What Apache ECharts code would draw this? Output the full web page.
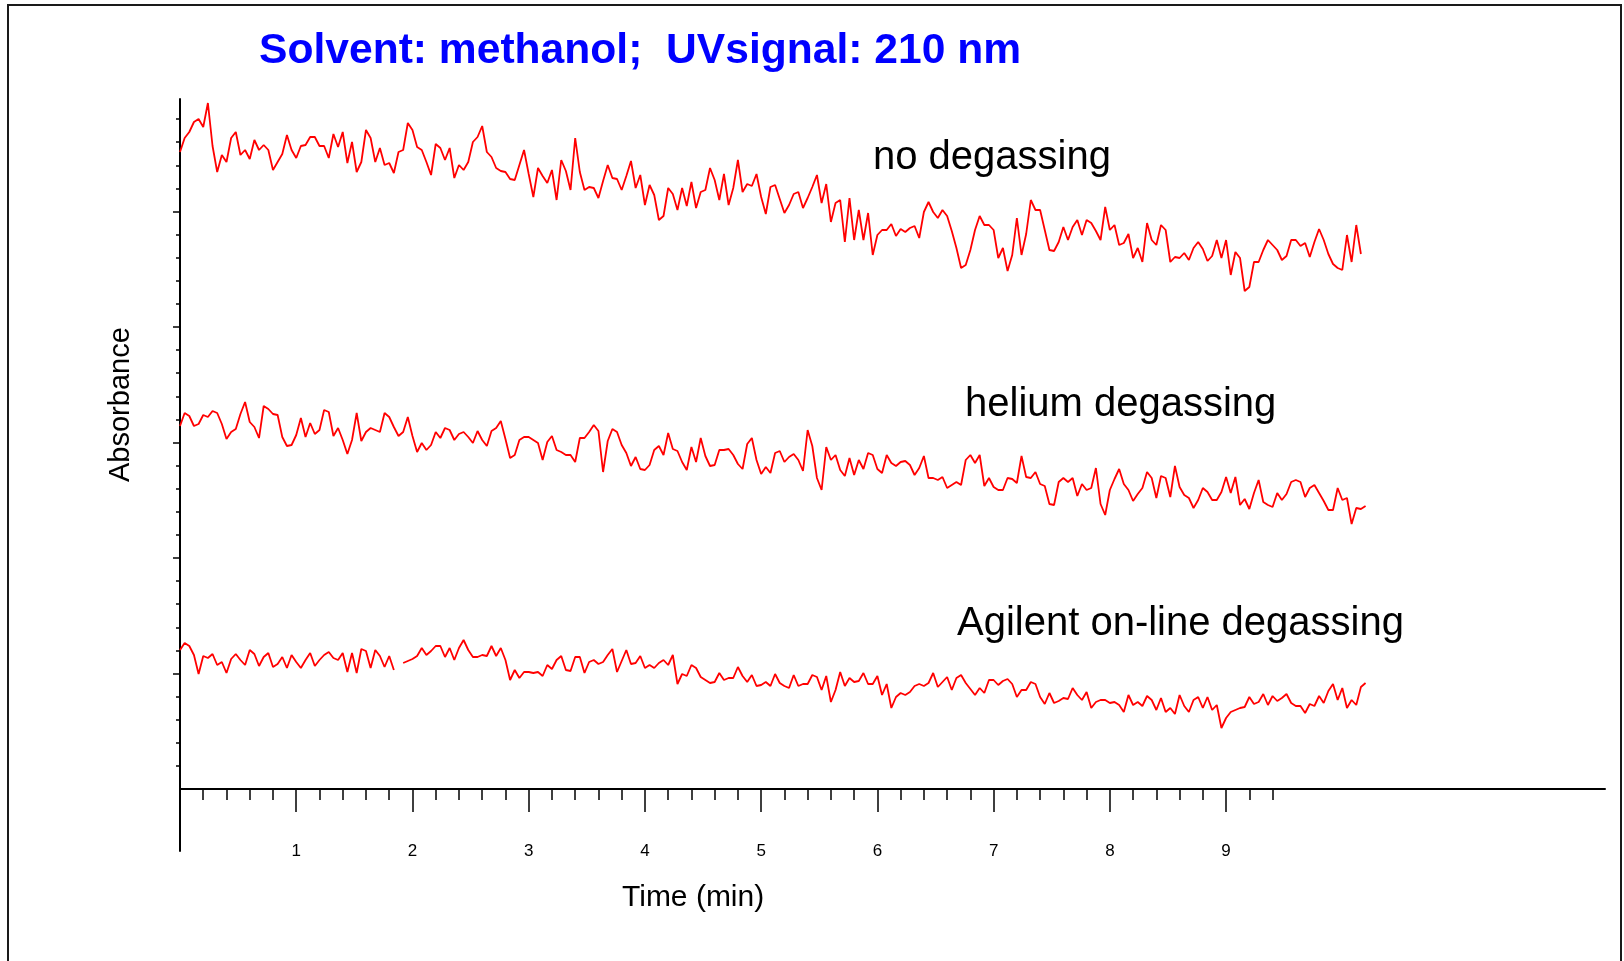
<!DOCTYPE html>
<html>
<head>
<meta charset="utf-8">
<title>Solvent: methanol; UVsignal: 210 nm</title>
<script src="https://cdn.jsdelivr.net/npm/echarts@6.0.0/dist/echarts.min.js"></script>
<style>
    html, body { margin: 0; padding: 0; background: #fff; }
    #main { width: 1624px; height: 961px; }
</style>
</head>
<body>
<div id="main"></div>
<script>
// baseline traces, one reading every 0.04 min, detector signal above the baseline (arbitrary units)
var SAMPLE_STEP = 0.04;

var noDegassing = [
    637, 651, 657, 667, 670, 662, 686, 643, 617, 634, 627, 651, 657, 634, 639, 630, 649, 639, 644, 639, 619, 627, 635, 654, 639,
    631, 643, 644, 652, 652, 643, 643, 631, 655, 642, 657, 626, 647, 617, 627, 659, 651, 627, 641, 624, 626, 616, 637, 639, 666,
    659, 642, 639, 627, 614, 645, 641, 629, 641, 611, 624, 619, 627, 647, 652, 663, 637, 632, 621, 618, 617, 610, 609, 624, 639,
    615, 592, 621, 613, 606, 619, 589, 629, 618, 599, 651, 617, 599, 602, 601, 591, 608, 624, 611, 610, 599, 613, 628, 601, 614,
    584, 604, 594, 569, 573, 601, 595, 579, 601, 583, 607, 581, 597, 599, 621, 609, 589, 615, 584, 601, 629, 597, 605, 603, 615,
    592, 575, 602, 604, 590, 576, 584, 595, 597, 581, 591, 602, 614, 586, 605, 567, 586, 589, 547, 591, 549, 579, 549, 576, 534,
    554, 559, 559, 565, 553, 560, 557, 561, 563, 551, 577, 587, 577, 571, 579, 573, 558, 541, 521, 524, 539, 559, 573, 564, 564,
    559, 531, 541, 518, 534, 571, 534, 555, 589, 579, 579, 559, 539, 538, 547, 562, 549, 562, 569, 554, 569, 566, 558, 549, 582,
    559, 564, 544, 546, 555, 531, 541, 527, 566, 549, 544, 564, 559, 527, 532, 531, 536, 529, 541, 547, 540, 528, 533, 549, 531,
    549, 514, 537, 531, 498, 502, 527, 527, 539, 549, 544, 539, 529, 533, 549, 549, 543, 546, 532, 547, 560, 549, 535, 525, 521,
    519, 554, 527, 564, 535
];

var heliumDegassing = [
    363, 376, 373, 363, 365, 374, 372, 378, 376, 365, 350, 357, 360, 375, 387, 367, 362, 351, 383, 380, 375, 374, 352, 343, 344,
    354, 371, 352, 366, 355, 359, 379, 377, 353, 361, 349, 335, 349, 376, 348, 357, 361, 359, 357, 376, 372, 362, 353, 357, 372,
    353, 337, 346, 339, 344, 357, 351, 361, 359, 349, 355, 357, 352, 346, 358, 349, 343, 358, 361, 368, 350, 331, 334, 349, 352,
    352, 349, 346, 329, 347, 353, 339, 337, 334, 334, 327, 351, 351, 357, 364, 358, 317, 348, 360, 357, 344, 336, 323, 332, 320,
    319, 324, 339, 343, 334, 356, 340, 338, 327, 319, 342, 327, 351, 333, 323, 324, 339, 339, 340, 334, 325, 320, 345, 351, 329,
    315, 322, 316, 336, 338, 327, 332, 335, 329, 318, 359, 343, 311, 299, 342, 329, 334, 319, 313, 331, 314, 329, 320, 336, 334,
    320, 316, 334, 326, 323, 327, 328, 324, 314, 321, 333, 311, 311, 309, 312, 301, 304, 307, 304, 329, 334, 326, 334, 303, 311,
    302, 299, 299, 311, 310, 306, 333, 312, 311, 317, 305, 303, 285, 284, 307, 311, 307, 311, 293, 305, 299, 301, 321, 285, 274,
    299, 310, 320, 305, 299, 288, 295, 301, 317, 311, 291, 313, 311, 292, 323, 302, 294, 291, 281, 289, 301, 297, 289, 289, 297,
    312, 296, 312, 284, 290, 280, 296, 309, 287, 284, 282, 296, 289, 295, 307, 309, 307, 292, 301, 304, 296, 288, 279, 279, 301,
    289, 291, 265, 281, 280, 283
];

// null = the short break in the recording near 1.9 min
var onlineDegassing = [
    139, 146, 143, 134, 115, 133, 131, 135, 124, 127, 116, 130, 135, 129, 124, 139, 135, 123, 132, 136, 122, 125, 132, 121, 134,
    127, 121, 129, 136, 123, 129, 134, 137, 131, 129, 136, 117, 136, 116, 140, 138, 121, 139, 133, 122, 133, 119, null, 126, 128,
    130, 133, 141, 134, 138, 143, 143, 132, 141, 129, 141, 149, 139, 132, 132, 134, 133, 143, 133, 141, 129, 109, 119, 111, 117,
    117, 116, 117, 113, 124, 120, 129, 133, 119, 118, 132, 132, 116, 127, 129, 125, 127, 134, 140, 117, 128, 139, 125, 126, 133,
    121, 124, 121, 126, 129, 124, 134, 105, 115, 113, 124, 121, 112, 109, 106, 107, 116, 109, 111, 111, 122, 113, 107, 114, 103,
    104, 107, 103, 115, 106, 103, 101, 114, 103, 105, 105, 114, 112, 99, 113, 87, 99, 117, 103, 111, 107, 108, 116, 105, 105,
    113, 94, 105, 81, 92, 96, 94, 97, 103, 105, 103, 106, 116, 102, 107, 112, 99, 111, 114, 106, 100, 94, 101, 96, 109,
    109, 104, 108, 110, 105, 92, 99, 99, 107, 105, 92, 85, 96, 86, 88, 91, 90, 101, 94, 89, 97, 81, 87, 89, 89,
    86, 87, 84, 77, 94, 84, 87, 83, 93, 89, 79, 91, 77, 81, 75, 94, 83, 77, 89, 92, 81, 92, 79, 84, 61,
    71, 77, 79, 81, 82, 92, 85, 87, 95, 84, 93, 88, 91, 95, 86, 83, 83, 76, 85, 83, 93, 86, 98, 105, 89,
    101, 81, 89, 84, 102, 106
];

// axis ticks
var xMajorTicks = [1, 2, 3, 4, 5, 6, 7, 8, 9];
var xMinorTicks = [0.2, 0.4, 0.6, 0.8, 1.2, 1.4, 1.6, 1.8, 2.2, 2.4, 2.6, 2.8, 3.2, 3.4, 3.6, 3.8,
    4.2, 4.4, 4.6, 4.8, 5.2, 5.4, 5.6, 5.8, 6.2, 6.4, 6.6, 6.8, 7.2, 7.4, 7.6, 7.8,
    8.2, 8.4, 8.6, 8.8, 9.2, 9.4];
var yMajorTicks = [115.5, 231, 346.5, 462, 577.5];
var yMinorTicks = [23.1, 46.2, 69.3, 92.4, 138.6, 161.7, 184.8, 207.9, 254.1, 277.2, 300.3, 323.4,
    369.6, 392.7, 415.8, 438.9, 485.1, 508.2, 531.3, 554.4, 600.6, 623.7, 646.8, 669.9];

var traceLabels = ['no degassing', 'helium degassing', 'Agilent on-line degassing'];
var titleText = 'Solvent: methanol;  UVsignal: 210 nm';

var FONT = '"Liberation Sans", Arial, Helvetica, sans-serif';

function toPoints(values) {
    var pts = [];
    for (var i = 0; i < values.length; i++) {
        pts.push([+(i * SAMPLE_STEP).toFixed(2), values[i]]);
    }
    return pts;
}

function trace(name, values) {
    return {
        name: name,
        type: 'line',
        data: toPoints(values),
        showSymbol: false,
        symbol: 'none',
        connectNulls: false,
        lineStyle: { color: '#ff0000', width: 1.8 },
        itemStyle: { color: '#ff0000' },
        silent: true
    };
}

function label(text, x, y, size, extra) {
    var el = {
        type: 'text',
        x: x,
        y: y,
        silent: true,
        style: {
            text: text,
            fill: '#000',
            font: size + 'px ' + FONT,
            align: 'left',
            verticalAlign: 'middle',
            textAlign: 'left',
            textVerticalAlign: 'middle'
        }
    };
    for (var k in extra) el[k] = extra[k];
    return el;
}

var tickLine = { color: '#000', width: 1.5 };

var chart = echarts.init(document.getElementById('main'), null, { renderer: 'canvas' });

var option = {
    animation: false,
    backgroundColor: '#ffffff',
    grid: { left: 180, right: 19, top: 99, bottom: 110, containLabel: false },
    xAxis: [
        {
            type: 'value', min: 0, max: 12.26, position: 'bottom',
            axisLine: { show: true, onZero: true, onZeroAxisIndex: 0, lineStyle: { color: '#000', width: 2 } },
            axisTick: { show: true, customValues: xMajorTicks, length: 23, lineStyle: tickLine },
            // labels stay at the grid bottom, pull them up under the ticks
            axisLabel: { show: true, customValues: xMajorTicks, margin: -8, color: '#000', fontSize: 17, fontFamily: FONT },
            splitLine: { show: false }
        },
        {
            type: 'value', min: 0, max: 12.26, position: 'bottom',
            axisLine: { show: false, onZero: true, onZeroAxisIndex: 0 },
            axisTick: { show: true, customValues: xMinorTicks, length: 11, lineStyle: tickLine },
            axisLabel: { show: false },
            splitLine: { show: false }
        }
    ],
    yAxis: [
        {
            type: 'value', min: -62, max: 690, position: 'left',
            axisLine: { show: true, onZero: true, onZeroAxisIndex: 0, lineStyle: { color: '#000', width: 2 } },
            axisTick: { show: true, customValues: yMajorTicks, length: 7, lineStyle: tickLine },
            axisLabel: { show: false },
            splitLine: { show: false }
        },
        {
            type: 'value', min: -62, max: 690, position: 'left',
            axisLine: { show: false, onZero: true, onZeroAxisIndex: 0 },
            axisTick: { show: true, customValues: yMinorTicks, length: 4, lineStyle: tickLine },
            axisLabel: { show: false },
            splitLine: { show: false }
        }
    ],
    series: [
        trace(traceLabels[0], noDegassing),
        trace(traceLabels[1], heliumDegassing),
        trace(traceLabels[2], onlineDegassing)
    ],
    graphic: [
        {
            type: 'rect', silent: true,
            shape: { x: 8, y: 5, width: 1613, height: 1000 },
            style: { fill: 'none', stroke: '#1a1a1a', lineWidth: 2 }
        },
        label(titleText, 259, 51, 42.6, {}),
        label(traceLabels[0], 873, 158, 40, {}),
        label(traceLabels[1], 965, 405, 40, {}),
        label(traceLabels[2], 957, 624, 40, {}),
        label('Time (min)', 622, 898, 30, {}),
        label('Absorbance', 121, 482, 29, { rotation: Math.PI / 2 })
    ]
};

// title is bold blue
option.graphic[1].style.font = 'bold 42.6px ' + FONT;
option.graphic[1].style.fill = '#0000ff';

chart.setOption(option);
</script>
</body>
</html>
